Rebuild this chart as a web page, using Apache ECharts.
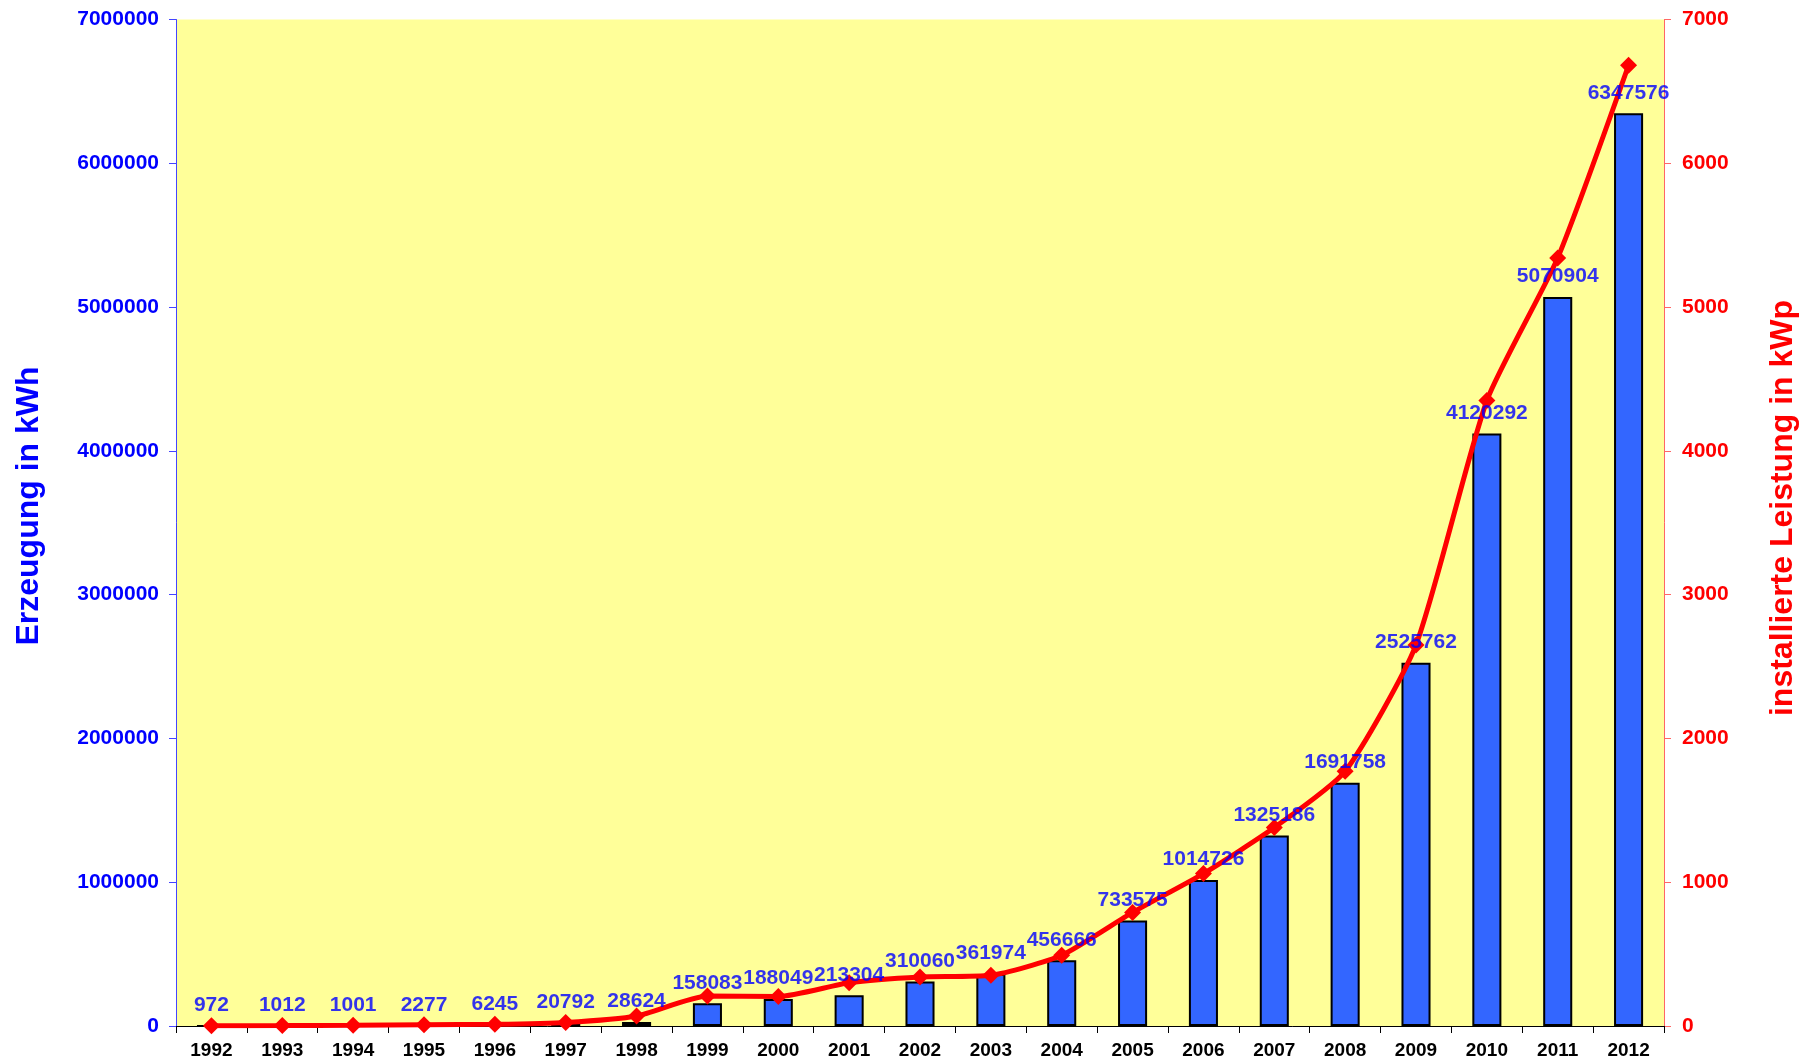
<!DOCTYPE html>
<html><head><meta charset="utf-8">
<script src="https://cdn.jsdelivr.net/npm/echarts@6/dist/echarts.min.js"></script>
<style>html,body{margin:0;padding:0;background:#fff}#c{width:1803px;height:1063px}</style>
</head><body><div id="c"></div>
<script>
const years = ['1992','1993','1994','1995','1996','1997','1998','1999','2000','2001','2002','2003','2004','2005','2006','2007','2008','2009','2010','2011','2012'];
const erzeugung = [972,1012,1001,2277,6245,20792,28624,158083,188049,213304,310060,361974,456666,733575,1014726,1325186,1691758,2525762,4120292,5070904,6347576];
const leistung = [2,3,5,8,12,25,70,209,205,301,341,353,492,790,1060,1380,1772,2650,4350,5342,6682];
const leftTicks = {min:0, max:7000000, interval:1000000};
const rightTicks = {min:0, max:7000, interval:1000};
const leftName = 'Erzeugung in kWh';
const rightName = 'installierte Leistung in kWp';

const font = '"Liberation Sans", Arial, sans-serif';
const chart = echarts.init(document.getElementById('c'), null, {renderer:'canvas'});
chart.setOption({
  animation:false,
  backgroundColor:'#ffffff',
  grid:{left:176, right:139, top:19.5, bottom:37, show:true, backgroundColor:'#ffff99', borderWidth:0, outerBoundsMode:'none', containLabel:false},
  graphic:[
    {type:'text', x:29, y:506, rotation:Math.PI/2,
     style:{text:leftName, fill:'#0000ff', font:'bold 32px ' + font, align:'center', verticalAlign:'middle'}},
    {type:'text', x:1783, y:508, rotation:Math.PI/2,
     style:{text:rightName, fill:'#ff0000', font:'bold 32px ' + font, align:'center', verticalAlign:'middle'}}
  ],
  xAxis:{
    type:'category', data:years, boundaryGap:true,
    axisLine:{lineStyle:{color:'#000', width:1}},
    axisTick:{show:true, alignWithLabel:false, length:7, lineStyle:{color:'#000'}},
    axisLabel:{color:'#000', fontWeight:'bold', fontSize:19, fontFamily:font, margin:15, interval:0}
  },
  yAxis:[
    {type:'value', position:'left', min:leftTicks.min, max:leftTicks.max, interval:leftTicks.interval,
     axisLine:{show:true, lineStyle:{color:'#4444ff', width:1}},
     axisTick:{show:true, length:7, lineStyle:{color:'#4444ff'}},
     splitLine:{show:false},
     axisLabel:{color:'#0000ff', fontWeight:'bold', fontSize:21, fontFamily:font, margin:17, formatter:v=>String(v)}
    },
    {type:'value', position:'right', min:rightTicks.min, max:rightTicks.max, interval:rightTicks.interval,
     axisLine:{show:true, lineStyle:{color:'#ff6666', width:1}},
     axisTick:{show:true, length:7, lineStyle:{color:'#ff6666'}},
     splitLine:{show:false},
     axisLabel:{color:'#ff0000', fontWeight:'bold', fontSize:21, fontFamily:font, margin:18, formatter:v=>String(v)}
    }
  ],
  series:[
    {type:'bar', yAxisIndex:0, data:erzeugung, barWidth:'41%', z:2,
     itemStyle:{color:'#3366ff', borderColor:'#000', borderWidth:2}
    },
    {type:'line', yAxisIndex:1, data:leistung, smooth:0.2, z:5,
     lineStyle:{color:'#ff0000', width:5},
     itemStyle:{color:'#ff0000'},
     symbol:'diamond', symbolSize:17
    },
    {type:'scatter', yAxisIndex:0, data:erzeugung, z:10, symbolSize:2, silent:true,
     itemStyle:{color:'rgba(0,0,0,0)'},
     label:{show:true, position:'top', distance:9, color:'#0000ff', fontWeight:'bold', fontSize:21, fontFamily:font, formatter:p=>String(p.value)},
     labelLayout:{hideOverlap:false}
    }
  ]
});
</script></body></html>
